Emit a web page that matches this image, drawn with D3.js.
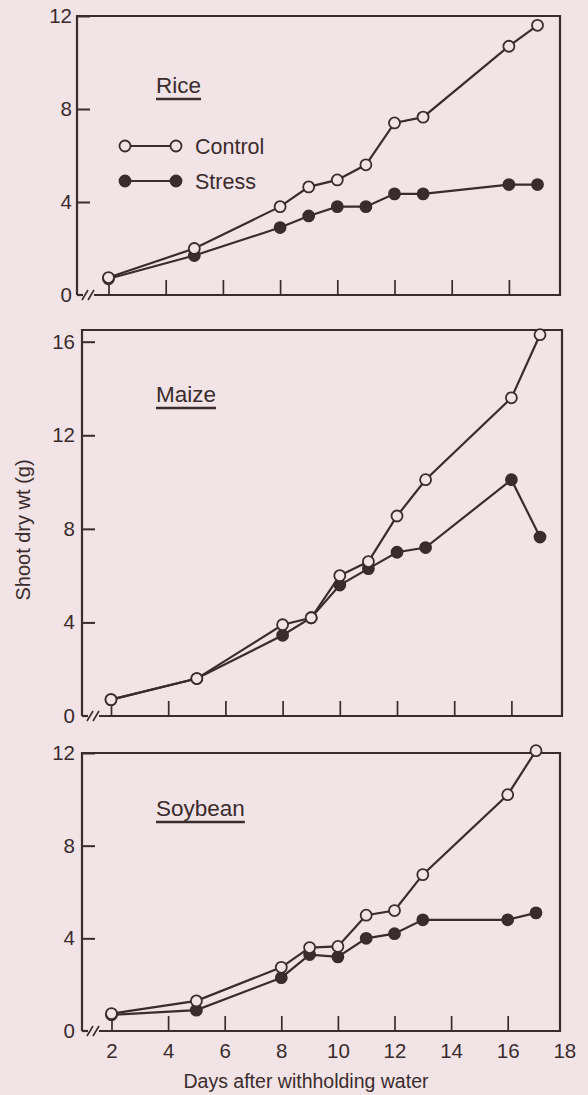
<!DOCTYPE html>
<html>
<head>
<meta charset="utf-8">
<script src="https://cdn.jsdelivr.net/npm/d3@7"></script>
<style>
  body { margin: 0; background: #f2e4e6; }
  svg text { font-family: "Liberation Sans", Arial, sans-serif; fill: #3a2b2d; }
</style>
</head>
<body>
<div class="mainDiv"></div>
<script>
// values
const days = [2, 5, 8, 9, 10, 11, 12, 13, 16, 17];
const riceControl = [0.75, 2.0, 3.8, 4.65, 4.95, 5.6, 7.4, 7.65, 10.7, 11.6];
const riceStress = [0.7, 1.7, 2.9, 3.4, 3.8, 3.8, 4.35, 4.35, 4.75, 4.75];
const maizeControl = [0.7, 1.6, 3.9, 4.2, 6.0, 6.6, 8.55, 10.1, 13.6, 16.3];
const maizeStress = [0.7, 1.6, 3.45, 4.2, 5.6, 6.3, 7.0, 7.2, 10.1, 7.65];
const soyControl = [0.75, 1.3, 2.75, 3.6, 3.65, 5.0, 5.2, 6.75, 10.2, 12.1];
const soyStress = [0.7, 0.9, 2.3, 3.3, 3.2, 4.0, 4.2, 4.8, 4.8, 5.1];
const crops = ["Rice", "Maize", "Soybean"];
const seriesNames = ["Control", "Stress"];
const yTicks = [[0, 4, 8, 12], [0, 4, 8, 12, 16], [0, 4, 8, 12]];
const xTicks = [2, 4, 6, 8, 10, 12, 14, 16, 18];
const yTitle = "Shoot dry wt (g)";
const xTitle = "Days after withholding water";

const ink = "#3a2b2d";
const bg = "#f2e4e6";

const W = 588, H = 1095;
const svg = d3.select(".mainDiv").append("svg")
  .attr("width", W).attr("height", H)
  .style("display", "block");

svg.append("rect").attr("width", W).attr("height", H).attr("fill", bg);

// panel frames
const panels = [
  {name: crops[0], control: riceControl, stress: riceStress, ticks: yTicks[0], yTop: 12,
   left: 77, right: 560, top: 16, bottom: 295, x2: 108.5, dayW: 28.6, pad: 5, titleY: 93},
  {name: crops[1], control: maizeControl, stress: maizeStress, ticks: yTicks[1], yTop: 16.5,
   left: 82, right: 562, top: 330, bottom: 716, x2: 111, dayW: 28.6, pad: 7, titleY: 402},
  {name: crops[2], control: soyControl, stress: soyStress, ticks: yTicks[2], yTop: 12,
   left: 82, right: 560, top: 753, bottom: 1031, x2: 111.5, dayW: 28.3, pad: 7, titleY: 816}
];

panels.forEach((p, pi) => {
  const x = d3.scaleLinear().domain([2, 18]).range([p.x2, p.x2 + 16 * p.dayW]);
  const y = d3.scaleLinear().domain([0, p.yTop]).range([p.bottom, p.top]);
  const g = svg.append("g");

  // frame: left, top, right and the broken bottom axis
  g.append("path")
    .attr("d", `M${p.left},${p.bottom}V${p.top}H${p.right}V${p.bottom}H${p.left + 17}`)
    .attr("fill", "none").attr("stroke", ink).attr("stroke-width", 2.2);
  g.append("line")
    .attr("x1", p.left).attr("x2", p.left + 6)
    .attr("y1", p.bottom).attr("y2", p.bottom)
    .attr("stroke", ink).attr("stroke-width", 2.2);
  [8, 14].forEach(dx => {
    g.append("line")
      .attr("x1", p.left + dx - 3).attr("y1", p.bottom + 5)
      .attr("x2", p.left + dx + 3).attr("y2", p.bottom - 5)
      .attr("stroke", ink).attr("stroke-width", 1.6);
  });

  // y axis, ticks pointing inward
  const yAxis = g.append("g")
    .attr("transform", `translate(${p.left},0)`)
    .call(d3.axisLeft(y).tickValues(p.ticks).tickSize(-13).tickPadding(p.pad));
  yAxis.select(".domain").remove();
  yAxis.selectAll("line").attr("stroke", ink).attr("stroke-width", 2);
  yAxis.selectAll("text").attr("font-size", 20.5).style("fill", ink);
  yAxis.selectAll(".tick").filter(d => d === 0).select("line").remove();

  // x axis, ticks pointing up
  const xAxis = g.append("g")
    .attr("transform", `translate(0,${p.bottom})`)
    .call(d3.axisBottom(x).tickValues(xTicks).tickSize(-15).tickPadding(12)
      .tickFormat(pi === 2 ? d3.format("d") : ""));
  xAxis.select(".domain").remove();
  xAxis.selectAll("line").attr("stroke", ink).attr("stroke-width", 1.7);
  xAxis.selectAll("text").attr("font-size", 20.5).style("fill", ink);
  xAxis.selectAll(".tick").filter(d => d === 18).select("line").remove();

  // crop name, underlined
  const title = g.append("text")
    .attr("x", 156).attr("y", p.titleY)
    .attr("font-size", 22.5)
    .text(p.name);
  const tw = title.node().getComputedTextLength();
  g.append("line")
    .attr("x1", 156).attr("x2", 156 + tw)
    .attr("y1", p.titleY + 6).attr("y2", p.titleY + 6)
    .attr("stroke", ink).attr("stroke-width", 2.5);

  const line = d3.line().x((d, i) => x(days[i])).y(d => y(d));

  [p.stress, p.control].forEach((vals, si) => {
    const open = si === 1;
    g.append("path")
      .datum(vals)
      .attr("d", line)
      .attr("fill", "none").attr("stroke", ink).attr("stroke-width", 2.2);
    g.selectAll(null)
      .data(vals)
      .join("circle")
      .attr("cx", (d, i) => x(days[i]))
      .attr("cy", d => y(d))
      .attr("r", 5.5)
      .attr("fill", open ? bg : ink)
      .attr("stroke", ink).attr("stroke-width", 1.8);
  });

  // legend only in the first panel
  if (pi === 0) {
    seriesNames.forEach((s, i) => {
      const ly = 146 + i * 35;
      const fill = i === 0 ? bg : ink;
      g.append("line")
        .attr("x1", 125).attr("x2", 176).attr("y1", ly).attr("y2", ly)
        .attr("stroke", ink).attr("stroke-width", 2.2);
      [125, 176].forEach(cx => {
        g.append("circle").attr("cx", cx).attr("cy", ly).attr("r", 5.5)
          .attr("fill", fill).attr("stroke", ink).attr("stroke-width", 1.8);
      });
      g.append("text")
        .attr("x", 195).attr("y", ly + 7.5)
        .attr("font-size", 21.5)
        .text(s);
    });
  }
});

svg.append("text")
  .attr("x", 306).attr("y", 1088)
  .attr("text-anchor", "middle")
  .attr("font-size", 19.5)
  .text(xTitle);

svg.append("text")
  .attr("transform", "translate(30,530) rotate(-90)")
  .attr("text-anchor", "middle")
  .attr("font-size", 20)
  .text(yTitle);
</script>
</body>
</html>
